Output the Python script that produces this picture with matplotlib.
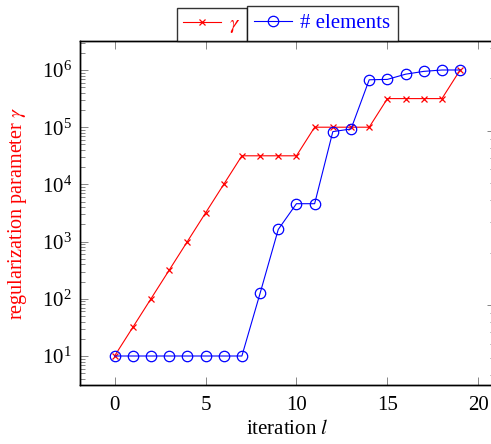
import numpy as np
import matplotlib
matplotlib.use("Agg")
import matplotlib.pyplot as plt
from matplotlib.lines import Line2D
from matplotlib.ticker import LogLocator, NullFormatter

plt.rcParams['font.family'] = 'serif'
plt.rcParams['font.serif'] = ['Liberation Serif', 'DejaVu Serif']
plt.rcParams['mathtext.fontset'] = 'stix'
plt.rcParams['font.size'] = 15

# iteration index and the two tracked quantities
iterations = list(range(20))
gamma = [10, 31.6, 100, 316, 1000, 3162, 10000, 31623, 31623, 31623, 31623,
         100000, 100000, 100000, 100000, 316228, 316228, 316228, 316228, 1000000]
n_elements = [512, 512, 512, 512, 512, 512, 512, 512, 1170, 2720, 3820, 3820,
              9890, 10240, 19600, 19700, 21100, 21900, 22300, 22300]

W, H = 491, 444
fig = plt.figure(figsize=(W / 100, H / 100), dpi=100)

# axes box in pixels (the right edge runs slightly past the canvas)
left, right, top, bottom = 80, 494.7, 41.4, 384.6
ax = fig.add_axes([left / W, 1 - bottom / H, (right - left) / W, (bottom - top) / H])

ax.plot(iterations, gamma, color='red', lw=0.8, marker='x', ms=5, mew=0.9)
ax.set_yscale('log')
ax.set_xlim(-1.9, 20.9)
ax.set_ylim(10 ** 0.5, 10 ** 6.5)
ax.set_xticks([0, 5, 10, 15, 20])
ax.yaxis.set_major_locator(LogLocator(base=10, numticks=10))
ax.yaxis.set_minor_locator(LogLocator(base=10, subs=np.arange(2, 10), numticks=20))
ax.yaxis.set_minor_formatter(NullFormatter())
ax.set_xlabel('iteration $l$', labelpad=4)
ax.set_ylabel(r'regularization parameter $\gamma$', color='red', fontsize=14.5)
ax.yaxis.set_label_coords(-(80 - 29) / (right - left), 0.5)

ax.tick_params(axis='x', which='both', direction='in', top=True, bottom=True,
               length=6, width=0.6, color='0.45', pad=8)
ax.tick_params(axis='y', which='major', direction='in', left=True, right=False,
               length=6, width=0.6, color='0.45', pad=6)
ax.tick_params(axis='y', which='minor', direction='in', left=True, right=False,
               length=3.5, width=0.6, color='0.45')
for s in ax.spines.values():
    s.set_linewidth(1.0)

# element count on its own log axis to the right
ax2 = ax.twinx()
ax2.plot(iterations, n_elements, color='blue', lw=0.8, marker='o', ms=7.5,
         mfc='none', mew=0.9)
ax2.set_yscale('log')
lo, hi = np.log10(min(n_elements)), np.log10(max(n_elements))
pad = 0.1 * (hi - lo)
ax2.set_ylim(10 ** (lo - pad), 10 ** (hi + pad))
ax2.yaxis.set_minor_locator(LogLocator(base=10, subs=np.arange(2, 10), numticks=20))
ax2.yaxis.set_minor_formatter(NullFormatter())
ax2.tick_params(axis='y', which='major', direction='in', length=6, width=0.6,
                color='0.45', labelright=False)
ax2.tick_params(axis='y', which='minor', direction='in', length=3.5, width=0.6,
                color='0.45')
for s in ax2.spines.values():
    s.set_linewidth(1.0)
for a in (ax, ax2):
    a.xaxis.get_offset_text().set_visible(False)
    a.yaxis.get_offset_text().set_visible(False)

# one legend box per axis, side by side above the plot
h1 = Line2D([], [], color='red', lw=0.8, marker='x', ms=5, mew=0.9)
h2 = Line2D([], [], color='blue', lw=0.8, marker='o', ms=7.5, mfc='none', mew=0.9)
split = 246.5 / W
ytop = 1 - top / H
leg_kw = dict(frameon=True, fancybox=False, handlelength=1.8, handletextpad=0.4,
              borderaxespad=0.0)
leg1 = fig.legend([h1], [r'$\gamma$'], loc='lower right', borderpad=0.3,
                  bbox_to_anchor=(split, ytop), labelcolor='red', **leg_kw)
leg2 = fig.legend([h2], ['# elements'], loc='lower left', borderpad=0.38,
                  bbox_to_anchor=(split, ytop), labelcolor='blue', **leg_kw)
for leg in (leg1, leg2):
    leg.get_frame().set_edgecolor('black')
    leg.get_frame().set_linewidth(1.0)

fig.savefig('out.png', dpi=100)
